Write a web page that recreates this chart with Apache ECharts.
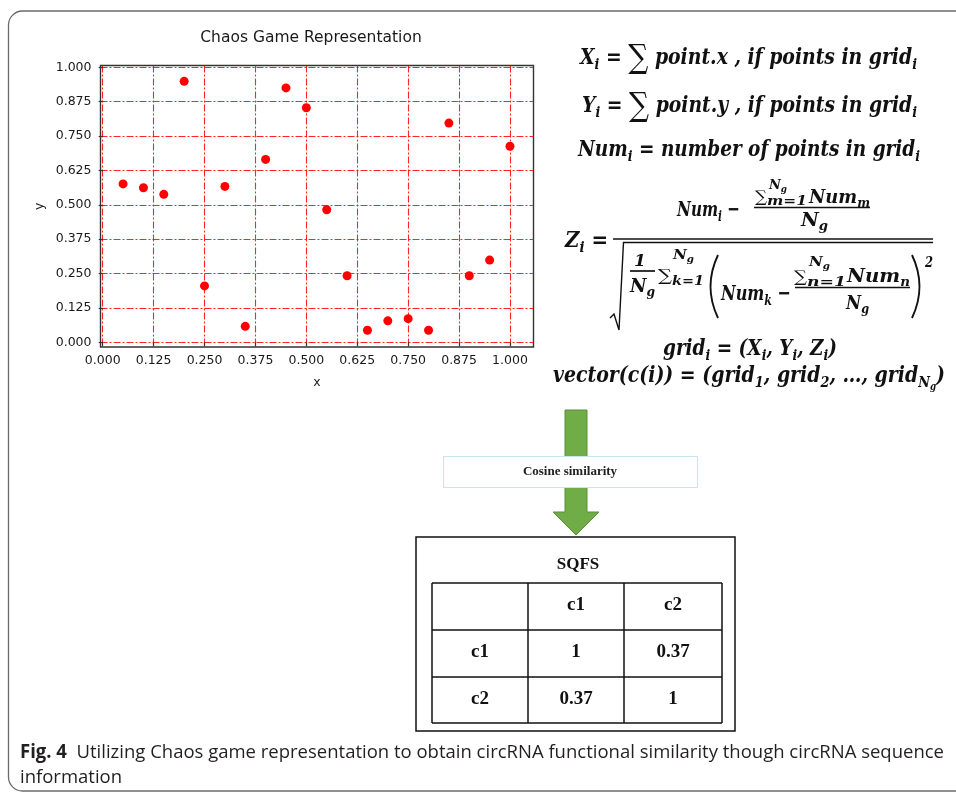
<!DOCTYPE html>
<html>
<head>
<meta charset="utf-8">
<script src="https://cdn.jsdelivr.net/npm/echarts@6/dist/echarts.min.js"></script>
<style>
html, body { margin: 0; padding: 0; background: #fff; }
#wrap { position: relative; width: 956px; height: 795px; overflow: hidden; }
#chart { position: absolute; left: 0; top: 0; width: 956px; height: 795px; }
#math { position: absolute; left: 0; top: 0; width: 956px; height: 795px; pointer-events: none; }
.m { position: absolute; left: 0; top: 0; width: max-content; white-space: nowrap; line-height: 1; transform-origin: 0 0;
     font-family: "DejaVu Serif", serif; font-style: italic; font-weight: bold; color: #111; }
.m span, .m sub, .m sup { line-height: 0; }
.m sub, .m sup { position: relative; vertical-align: baseline; font-size: 0.68em; }
.m sub { top: 0.32em; }
.m sup { top: -0.5em; }
.m .S { font-style: normal; font-weight: normal; font-size: 1.5em; position: relative; top: 0.12em; }
.m .u { font-style: normal; font-weight: normal; }
.cap { font-family: "Open Sans", sans-serif; font-style: normal; font-weight: normal; color: #231f20; }
.cap b { font-weight: bold; }
</style>
</head>
<body>
<div id="wrap">
  <div id="chart"></div>
  <div id="math"></div>
</div>
<script>
// scatter points (chaos game representation)
const xs = [0.05, 0.10, 0.15, 0.20, 0.25, 0.30, 0.35, 0.40, 0.45, 0.50,
            0.55, 0.60, 0.65, 0.70, 0.75, 0.80, 0.85, 0.90, 0.95, 1.00];
const ys = [0.576, 0.562, 0.538, 0.949, 0.205, 0.567, 0.058, 0.665, 0.925, 0.853,
            0.482, 0.242, 0.044, 0.078, 0.086, 0.044, 0.797, 0.242, 0.299, 0.713];
const xTicks = [0, 0.125, 0.25, 0.375, 0.5, 0.625, 0.75, 0.875, 1];
const yTicks = [0, 0.125, 0.25, 0.375, 0.5, 0.625, 0.75, 0.875, 1];

// similarity table
const tableTitle = 'SQFS';
const colNames = ['c1', 'c2'];
const rowNames = ['c1', 'c2'];
const simValues = [[1, 0.37], [0.37, 1]];

const chart = echarts.init(document.getElementById('chart'));

const tickFont = { fontFamily: 'DejaVu Sans', fontSize: 12.5, color: '#1a1a1a' };
const gridLine = { color: 'rgba(255,0,0,0.85)', width: 1.1, type: [7, 2, 2, 2] };

const graphics = [
  { type: 'rect', silent: true, z: -1,
    shape: { x: 8.5, y: 11, width: 1000, height: 780, r: 14 },
    style: { fill: 'none', stroke: '#6b6b6b', lineWidth: 1.3 } },
  { type: 'polygon',
    shape: { points: [[565, 410], [587, 410], [587, 512], [599, 512], [576, 535], [553, 512], [565, 512]] },
    style: { fill: '#70ad47', stroke: '#5b8f3a', lineWidth: 1 } },
  { type: 'rect', shape: { x: 443.5, y: 456.5, width: 254, height: 31 },
    style: { fill: '#fff', stroke: '#c4e6ee', lineWidth: 1 } },
  { type: 'text', x: 570, y: 472,
    style: { text: 'Cosine similarity', font: 'bold 13px "Liberation Serif"', fill: '#222', align: 'center', verticalAlign: 'middle' } },
  { type: 'rect', shape: { x: 416, y: 537, width: 319, height: 194 },
    style: { fill: '#fff', stroke: '#111', lineWidth: 1.5 } },
  { type: 'text', x: 578, y: 565,
    style: { text: tableTitle, font: 'bold 17px "Liberation Serif"', fill: '#111', align: 'center', verticalAlign: 'middle' } }
];

// table grid
const colX = [432, 528, 624, 722];
const rowY = [583, 630, 677, 723];
colX.forEach(x => graphics.push({ type: 'line', shape: { x1: x, y1: rowY[0], x2: x, y2: rowY[3] }, style: { stroke: '#111', lineWidth: 1.5 } }));
rowY.forEach(y => graphics.push({ type: 'line', shape: { x1: colX[0], y1: y, x2: colX[3], y2: y }, style: { stroke: '#111', lineWidth: 1.5 } }));
const cellText = (txt, c, r) => graphics.push({
  type: 'text', x: (colX[c] + colX[c + 1]) / 2, y: (rowY[r] + rowY[r + 1]) / 2 - 1,
  style: { text: String(txt), font: 'bold 19px "Liberation Serif"', fill: '#111', align: 'center', verticalAlign: 'middle' }
});
colNames.forEach((n, i) => cellText(n, i + 1, 0));
rowNames.forEach((n, i) => {
  cellText(n, 0, i + 1);
  simValues[i].forEach((v, j) => cellText(v, j + 1, i + 1));
});

chart.setOption({
  animation: false,
  title: {
    text: 'Chaos Game Representation', left: 306, top: 25, textAlign: 'center',
    textStyle: { fontFamily: 'DejaVu Sans', fontSize: 15.5, fontWeight: 'normal', color: '#1a1a1a' }
  },
  grid: { left: 100.5, top: 65.5, right: 422.5, bottom: 448, show: true, borderColor: '#333', borderWidth: 1.4 },
  xAxis: {
    type: 'value', min: -0.0054, max: 1.0577,
    name: 'x', nameLocation: 'middle', nameGap: 29, nameTextStyle: tickFont,
    axisLine: { show: false },
    axisTick: { show: true, length: 4, customValues: xTicks, lineStyle: { color: '#333', width: 1.2 } },
    axisLabel: { customValues: xTicks, formatter: v => v.toFixed(3), margin: 7, ...tickFont },
    splitLine: { show: true, lineStyle: gridLine }
  },
  yAxis: {
    type: 'value', min: -0.017, max: 1.0065,
    name: 'y', nameLocation: 'middle', nameGap: 54, nameTextStyle: tickFont,
    axisLine: { show: false },
    axisTick: { show: true, length: 4, customValues: yTicks, lineStyle: { color: '#333', width: 1.2 } },
    axisLabel: { customValues: yTicks, formatter: v => v.toFixed(3), margin: 9, ...tickFont },
    splitLine: { show: true, lineStyle: gridLine }
  },
  series: [{
    type: 'scatter',
    data: xs.map((x, i) => [x, ys[i]]),
    symbolSize: 9,
    itemStyle: { color: '#ff0000', opacity: 1 },
    z: 5
  }],
  graphic: graphics
});

// ---- formulas (HTML overlay) ----
const layer = document.getElementById('math');
function piece(html, x, base, size, w, opts = {}) {
  const el = document.createElement('div');
  el.className = 'm' + (opts.cls ? ' ' + opts.cls : '');
  el.style.fontSize = size + 'px';
  el.innerHTML = html + '<span class="bl" style="display:inline-block;width:0;height:0;vertical-align:baseline"></span>';
  layer.appendChild(el);
  const nat = el.getBoundingClientRect().width;
  const k = opts.k || (w ? w / nat : 1);
  const bl = el.querySelector('.bl').offsetTop;
  el.style.left = (opts.center ? x - nat * k / 2 : x) + 'px';
  el.style.top = (base - bl) + 'px';
  el.style.transform = 'scaleX(' + k + ')';
  return k;
}
const S = '<span class="S">∑</span>';
piece('X<sub>i</sub> = ' + S + ' point.x , if points in grid<sub>i</sub>', 580, 64, 22, 337);
piece('Y<sub>i</sub> = ' + S + ' point.y , if points in grid<sub>i</sub>', 582, 112, 22, 335);
piece('Num<sub>i</sub> = number of points in grid<sub>i</sub>', 578, 156, 22, 342);

piece('Z<sub>i</sub> =', 565, 247, 22, 43);
piece('Num<sub>i</sub> −', 677, 216, 21, 63);
piece('<span class="u">∑</span>', 755, 202, 16, 12);
piece('N<sub>g</sub>', 769, 189, 13, 18);
piece('m=1', 767, 205, 13, 40);
piece('Num<sub>m</sub>', 809, 203, 18, 61);
piece('N<sub>g</sub>', 814, 226, 18, 27, { center: true });

piece('1', 640, 266, 17, 0, { center: true });
piece('N<sub>g</sub>', 642, 292, 18, 25, { center: true });
piece('<span class="u">∑</span>', 658, 281, 17, 14);
piece('N<sub>g</sub>', 673, 259, 13, 21);
piece('k=1', 672, 285, 13, 32);
piece('Num<sub>k</sub> −', 721, 300, 21, 70);
piece('<span class="u">∑</span>', 794, 282, 16, 13);
piece('N<sub>g</sub>', 809, 266, 13, 21);
piece('n=1', 807, 286, 13, 39);
piece('Num<sub>n</sub>', 847, 282, 18, 63);
piece('N<sub>g</sub>', 857, 309, 18, 23, { center: true });
piece('2', 925, 267, 14, 8);

piece('grid<sub>i</sub> = (X<sub>i</sub>, Y<sub>i</sub>, Z<sub>i</sub>)', 663, 355, 22, 174);
piece('vector(c(i)) = (grid<sub>1</sub>, grid<sub>2</sub>, …, grid<sub>N<sub>g</sub></sub>)', 553, 382, 22, 392);

const svgNS = 'http://www.w3.org/2000/svg';
const svg = document.createElementNS(svgNS, 'svg');
svg.setAttribute('width', 956); svg.setAttribute('height', 795);
svg.style.position = 'absolute'; svg.style.left = '0'; svg.style.top = '0';
svg.innerHTML =
  '<g stroke="#111" fill="none" stroke-width="1.7">' +
  '<line x1="754" y1="207.5" x2="870" y2="207.5"/>' +
  '<line x1="613" y1="239" x2="933" y2="239"/>' +
  '<polyline points="610,318 614,314 619,330 623.5,242.5 933,242.5" stroke-width="1.4"/>' +
  '<line x1="630" y1="271" x2="655" y2="271"/>' +
  '<line x1="795" y1="287.5" x2="910" y2="287.5"/>' +
  '<path d="M718,255 Q703,286.5 718,318" stroke-width="1.9"/>' +
  '<path d="M912,255 Q927,286.5 912,318" stroke-width="1.9"/>' +
  '</g>';
layer.appendChild(svg);

// caption
const k = piece('<b>Fig. 4</b>&nbsp; Utilizing Chaos game representation to obtain circRNA functional similarity though circRNA sequence', 20, 758, 19, 924, { cls: 'cap' });
piece('information', 20, 783, 19, 0, { cls: 'cap', k: k });
</script>
</body>
</html>
